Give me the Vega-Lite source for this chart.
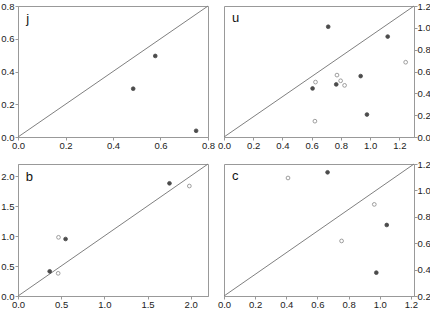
{
  "$schema": "https://vega.github.io/schema/vega-lite/v6.json",
  "padding": 0,
  "spacing": 8,
  "datasets": {
    "j": [
      {"x": 0.485, "y": 0.295, "type": "filled"},
      {"x": 0.578, "y": 0.495, "type": "filled"},
      {"x": 0.75, "y": 0.038, "type": "filled"}
    ],
    "u": [
      {"x": 0.713, "y": 1.01, "type": "filled"},
      {"x": 1.12, "y": 0.92, "type": "filled"},
      {"x": 0.935, "y": 0.558, "type": "filled"},
      {"x": 0.768, "y": 0.482, "type": "filled"},
      {"x": 0.606, "y": 0.445, "type": "filled"},
      {"x": 0.978, "y": 0.206, "type": "filled"},
      {"x": 0.626, "y": 0.503, "type": "open"},
      {"x": 0.773, "y": 0.567, "type": "open"},
      {"x": 0.798, "y": 0.515, "type": "open"},
      {"x": 0.825, "y": 0.473, "type": "open"},
      {"x": 1.243, "y": 0.685, "type": "open"},
      {"x": 0.622, "y": 0.145, "type": "open"}
    ],
    "b": [
      {"x": 1.754, "y": 1.878, "type": "filled"},
      {"x": 0.551, "y": 0.95, "type": "filled"},
      {"x": 0.367, "y": 0.411, "type": "filled"},
      {"x": 1.984, "y": 1.833, "type": "open"},
      {"x": 0.469, "y": 0.978, "type": "open"},
      {"x": 0.465, "y": 0.378, "type": "open"}
    ],
    "c": [
      {"x": 0.665, "y": 1.137, "type": "filled"},
      {"x": 1.045, "y": 0.738, "type": "filled"},
      {"x": 0.978, "y": 0.377, "type": "filled"},
      {"x": 0.411, "y": 1.094, "type": "open"},
      {"x": 0.965, "y": 0.894, "type": "open"},
      {"x": 0.755, "y": 0.617, "type": "open"}
    ]
  },
  "vconcat": [
    {
      "spacing": 16,
      "bounds": "flush",
      "hconcat": [
        {
          "width": 190, "height": 131,
          "data": {"name": "j"},
          "layer": [
            {"data": {"values": [{}]}, "mark": {"type": "rule", "color": "#808080", "strokeWidth": 1},
             "encoding": {"x": {"datum": 0, "type": "quantitative"}, "y": {"datum": 0, "type": "quantitative"}, "x2": {"datum": 0.8}, "y2": {"datum": 0.8}}},
            {"mark": {"type": "point", "shape": "circle", "filled": true, "size": 14, "strokeWidth": 0.8},
             "encoding": {
               "x": {"field": "x", "type": "quantitative", "title": null, "scale": {"domain": [0, 0.8], "nice": false}, "axis": {"values": [0, 0.2, 0.4, 0.6, 0.8], "tickCount": 50, "format": ".1f", "labelOverlap": false, "labelFlush": false}},
               "y": {"field": "y", "type": "quantitative", "title": null, "scale": {"domain": [0, 0.8], "nice": false}, "axis": {"values": [0, 0.2, 0.4, 0.6, 0.8], "tickCount": 50, "format": ".1f", "labelOverlap": false, "labelFlush": false, "labelPadding": 1}},
               "fill": {"field": "type", "type": "nominal", "scale": {"domain": ["filled", "open"], "range": ["#000000", "#ffffff"]}, "legend": null},
               "stroke": {"field": "type", "type": "nominal", "scale": {"domain": ["filled", "open"], "range": ["#000000", "#555555"]}, "legend": null}
             }},
            {"data": {"values": [{}]}, "mark": {"type": "text", "text": "j", "align": "left", "baseline": "alphabetic", "fontSize": 13, "color": "#111"},
             "encoding": {"x": {"datum": 0.035, "type": "quantitative"}, "y": {"datum": 0.697, "type": "quantitative"}}}
          ]
        },
        {
          "width": 190, "height": 131,
          "data": {"name": "u"},
          "layer": [
            {"data": {"values": [{}]}, "mark": {"type": "rule", "color": "#808080", "strokeWidth": 1},
             "encoding": {"x": {"datum": 0, "type": "quantitative"}, "y": {"datum": 0, "type": "quantitative"}, "x2": {"datum": 1.3}, "y2": {"datum": 1.2}}},
            {"mark": {"type": "point", "shape": "circle", "filled": true, "size": 14, "strokeWidth": 0.8},
             "encoding": {
               "x": {"field": "x", "type": "quantitative", "title": null, "scale": {"domain": [0, 1.3], "nice": false}, "axis": {"values": [0, 0.2, 0.4, 0.6, 0.8, 1.0, 1.2], "tickCount": 50, "format": ".1f", "labelOverlap": false, "labelFlush": false}},
               "y": {"field": "y", "type": "quantitative", "title": null, "scale": {"domain": [0, 1.2], "nice": false}, "axis": {"orient": "right", "values": [0, 0.2, 0.4, 0.6, 0.8, 1.0, 1.2], "tickCount": 50, "format": ".1f", "labelOverlap": false, "labelFlush": false, "labelPadding": 0}},
               "fill": {"field": "type", "type": "nominal", "scale": {"domain": ["filled", "open"], "range": ["#000000", "#ffffff"]}, "legend": null},
               "stroke": {"field": "type", "type": "nominal", "scale": {"domain": ["filled", "open"], "range": ["#000000", "#555555"]}, "legend": null}
             }},
            {"data": {"values": [{}]}, "mark": {"type": "text", "text": "u", "align": "left", "baseline": "alphabetic", "fontSize": 13, "color": "#111"},
             "encoding": {"x": {"datum": 0.055, "type": "quantitative"}, "y": {"datum": 1.053, "type": "quantitative"}}}
          ]
        }
      ]
    },
    {
      "spacing": 16,
      "bounds": "flush",
      "hconcat": [
        {
          "width": 190, "height": 132,
          "data": {"name": "b"},
          "layer": [
            {"data": {"values": [{}]}, "mark": {"type": "rule", "color": "#808080", "strokeWidth": 1},
             "encoding": {"x": {"datum": 0, "type": "quantitative"}, "y": {"datum": 0, "type": "quantitative"}, "x2": {"datum": 2.2}, "y2": {"datum": 2.2}}},
            {"mark": {"type": "point", "shape": "circle", "filled": true, "size": 14, "strokeWidth": 0.8},
             "encoding": {
               "x": {"field": "x", "type": "quantitative", "title": null, "scale": {"domain": [0, 2.2], "nice": false}, "axis": {"values": [0, 0.5, 1.0, 1.5, 2.0], "tickCount": 50, "format": ".1f", "labelOverlap": false, "labelFlush": false}},
               "y": {"field": "y", "type": "quantitative", "title": null, "scale": {"domain": [0, 2.2], "nice": false}, "axis": {"values": [0, 0.5, 1.0, 1.5, 2.0], "tickCount": 50, "format": ".1f", "labelOverlap": false, "labelFlush": false, "labelPadding": 1}},
               "fill": {"field": "type", "type": "nominal", "scale": {"domain": ["filled", "open"], "range": ["#000000", "#ffffff"]}, "legend": null},
               "stroke": {"field": "type", "type": "nominal", "scale": {"domain": ["filled", "open"], "range": ["#000000", "#555555"]}, "legend": null}
             }},
            {"data": {"values": [{}]}, "mark": {"type": "text", "text": "b", "align": "left", "baseline": "alphabetic", "fontSize": 13, "color": "#111"},
             "encoding": {"x": {"datum": 0.09, "type": "quantitative"}, "y": {"datum": 1.92, "type": "quantitative"}}}
          ]
        },
        {
          "width": 190, "height": 132,
          "data": {"name": "c"},
          "layer": [
            {"data": {"values": [{}]}, "mark": {"type": "rule", "color": "#808080", "strokeWidth": 1},
             "encoding": {"x": {"datum": 0, "type": "quantitative"}, "y": {"datum": 0.2, "type": "quantitative"}, "x2": {"datum": 1.22}, "y2": {"datum": 1.2}}},
            {"mark": {"type": "point", "shape": "circle", "filled": true, "size": 14, "strokeWidth": 0.8},
             "encoding": {
               "x": {"field": "x", "type": "quantitative", "title": null, "scale": {"domain": [0, 1.22], "nice": false}, "axis": {"values": [0, 0.2, 0.4, 0.6, 0.8, 1.0, 1.2], "tickCount": 50, "format": ".1f", "labelOverlap": false, "labelFlush": false}},
               "y": {"field": "y", "type": "quantitative", "title": null, "scale": {"domain": [0.2, 1.2], "nice": false, "zero": false}, "axis": {"orient": "right", "values": [0.2, 0.4, 0.6, 0.8, 1.0, 1.2], "tickCount": 50, "format": ".1f", "labelOverlap": false, "labelFlush": false, "labelPadding": 0}},
               "fill": {"field": "type", "type": "nominal", "scale": {"domain": ["filled", "open"], "range": ["#000000", "#ffffff"]}, "legend": null},
               "stroke": {"field": "type", "type": "nominal", "scale": {"domain": ["filled", "open"], "range": ["#000000", "#555555"]}, "legend": null}
             }},
            {"data": {"values": [{}]}, "mark": {"type": "text", "text": "c", "align": "left", "baseline": "alphabetic", "fontSize": 13, "color": "#111"},
             "encoding": {"x": {"datum": 0.051, "type": "quantitative"}, "y": {"datum": 1.08, "type": "quantitative"}}}
          ]
        }
      ]
    }
  ],
  "config": {
    "font": "Liberation Sans",
    "view": {"stroke": "#999999", "strokeWidth": 1},
    "axis": {
      "grid": false,
      "tickSize": 3,
      "domainColor": "#999999",
      "tickColor": "#999999",
      "labelFontSize": 9.5,
      "labelColor": "#222222",
      "labelPadding": 0,
      "labelFlush": false,
      "labelOverlap": false
    }
  }
}
